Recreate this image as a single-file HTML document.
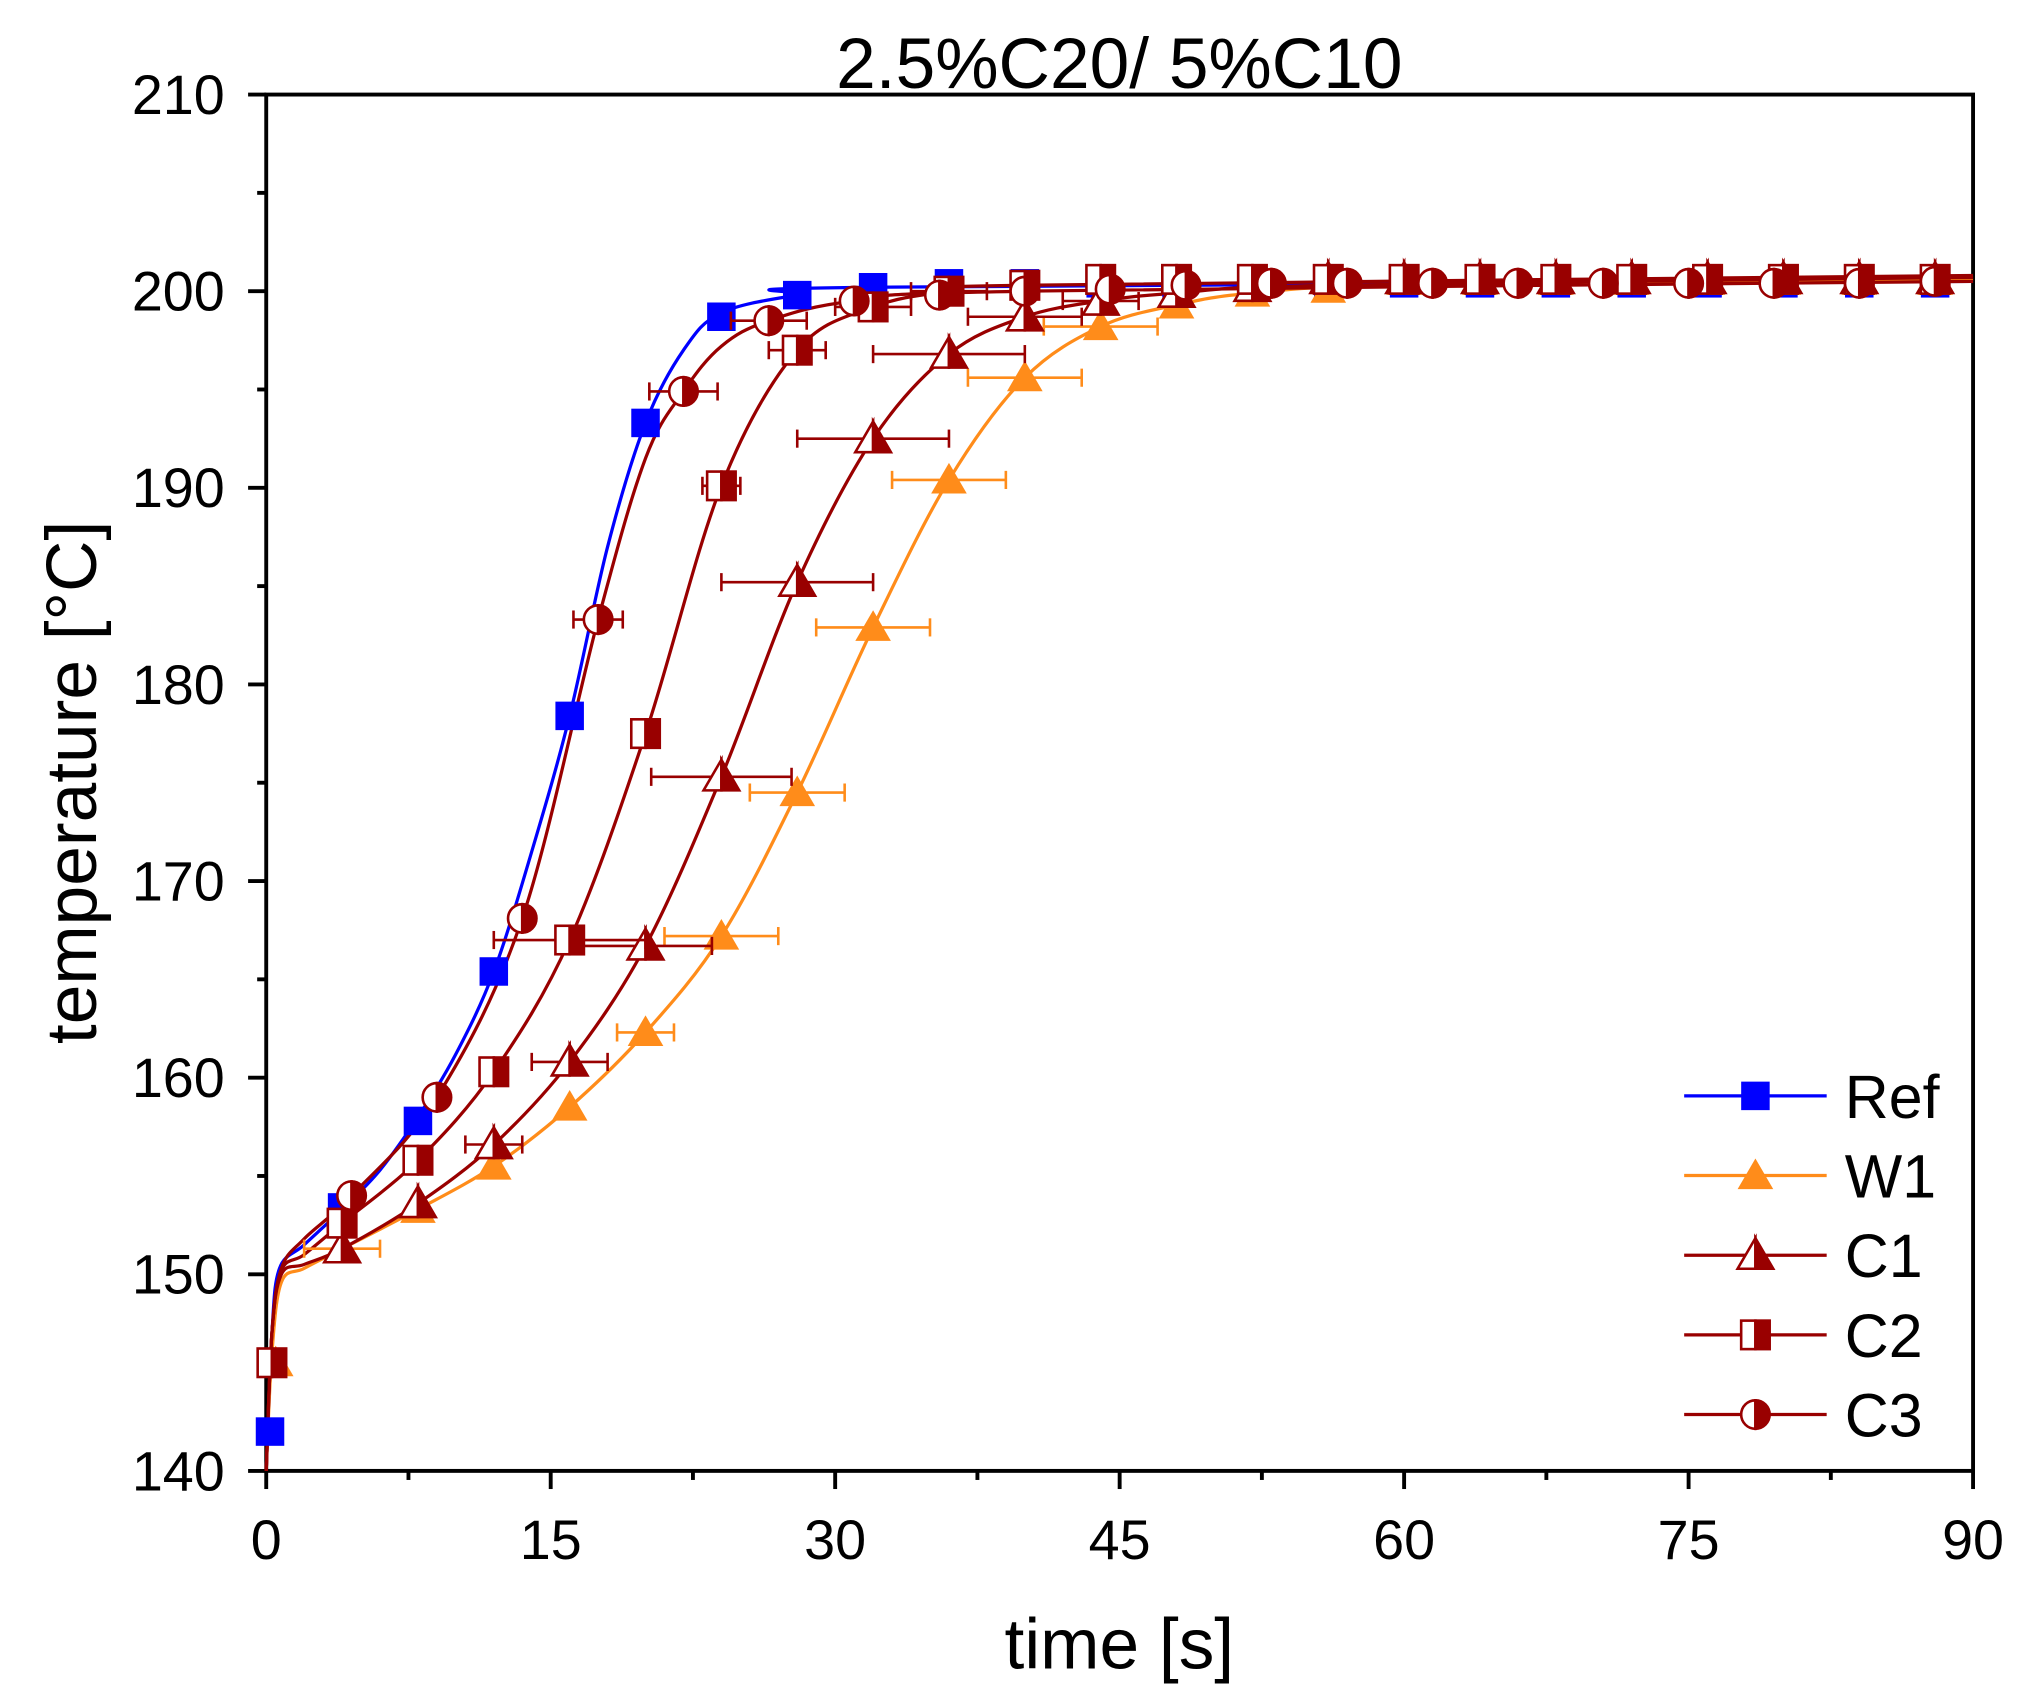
<!DOCTYPE html>
<html><head><meta charset="utf-8"><style>html,body{margin:0;padding:0;background:#fff}svg{display:block}</style></head>
<body>
<svg id="s" xmlns="http://www.w3.org/2000/svg" width="2021" height="1706" viewBox="0 0 1560 1317" preserveAspectRatio="none" font-family="Liberation Sans, Arial, sans-serif"></svg>
<script>
const S=document.getElementById('s');const NS='http://www.w3.org/2000/svg';
function el(t,a,p){const e=document.createElementNS(NS,t);for(const k in a)e.setAttribute(k,a[k]);(p||S).appendChild(e);return e;}
const X0=205.5,X1=1523,Y0=1135.5,Y1=73;
const X=t=>X0+t*(X1-X0)/90, Y=T=>Y0-(T-140)*(Y0-Y1)/70;
el('rect',{x:X0,y:Y1,width:X1-X0,height:Y0-Y1,fill:'none',stroke:'#000','stroke-width':3});
for(let t=0;t<=90;t+=7.5){const maj=t%15==0;el('line',{x1:X(t),x2:X(t),y1:Y0,y2:Y0+(maj?14:7),stroke:'#000','stroke-width':3});
 if(maj){const tx=el('text',{x:X(t),y:Y0+68,'font-size':43,'text-anchor':'middle'});tx.textContent=t;}}
for(let T=140;T<=210;T+=5){const maj=T%10==0;el('line',{x1:X0,x2:X0-(maj?14:7),y1:Y(T),y2:Y(T),stroke:'#000','stroke-width':3});
 if(maj){const tx=el('text',{x:X0-32,y:Y(T)+15,'font-size':43,'text-anchor':'end'});tx.textContent=T;}}
let t=el('text',{x:864,y:1288,'font-size':55,'text-anchor':'middle'});t.textContent='time [s]';
t=el('text',{x:0,y:0,'font-size':55,'text-anchor':'middle',transform:'translate(74,604) rotate(-90)'});t.textContent='temperature [°C]';
t=el('text',{x:864,y:68,'font-size':55,'text-anchor':'middle'});t.textContent='2.5%C20/ 5%C10';
const BL='#0000ff',OR='#ff8c1a',DR='#990000';
const tail=(start,v)=>{const a=[];for(let x=start;x<=88;x+=4)a.push([x,v]);return a;};
const series=[
 {c:BL,m:'sq',line:[[0,140],[0.3,147],[0.7,150.3],[2,151.5],[4,153.3],[6,155.3],[8,158],[10,161.2],[12,165.4],[14,171.5],[16,178.4],[18,187],[20,193.3],[22,197],[24,198.9],[28,199.8],[32,200.2],[90,200.5]],
  pts:[[0.2,142],[4,153.4],[8,157.8],[12,165.4],[16,178.4],[20,193.3],[24,198.7],[28,199.8],[32,200.2]].concat(tail(36,200.4))},
 {c:OR,m:'tri',line:[[0,140],[0.3,146],[0.8,149.6],[2,150.3],[4,151.3],[8,153.3],[12,155.5],[16,158.5],[20,162.3],[24,167.2],[28,174.5],[32,182.9],[36,190.4],[40,195.6],[44,198.2],[48,199.3],[52,199.9],[60,200.3],[90,200.6]],
  pts:[[0.5,145.5],[4,151.3],[8,153.3],[12,155.5],[16,158.5],[20,162.3],[24,167.2],[28,174.5],[32,182.9],[36,190.4],[40,195.6],[44,198.2],[48,199.3],[52,199.9],[56,200.1]].concat(tail(60,200.5)),
  err:[[4,2],[20,1.5],[24,3],[28,2.5],[32,3],[36,3],[40,3],[44,3]]},
 {c:DR,m:'htri',line:[[0,140],[0.3,147],[0.8,150],[2,150.5],[4,151.3],[8,153.6],[12,156.6],[16,160.8],[20,166.7],[24,175.3],[28,185.2],[32,192.5],[36,196.8],[40,198.7],[44,199.5],[48,199.9],[56,200.3],[90,200.7]],
  pts:[[4,151.3],[8,153.6],[12,156.6],[16,160.8],[20,166.7],[24,175.3],[28,185.2],[32,192.5],[36,196.8],[40,198.7],[44,199.5],[48,199.9],[52,200.2]].concat(tail(56,200.6)),
  err:[[12,1.5],[16,2],[20,3.5],[24,3.7],[28,4],[32,4],[36,4],[40,3],[44,2]]},
 {c:DR,m:'hsq',line:[[0,140],[0.3,147],[0.8,150.2],[2,151],[4,152.6],[8,155.8],[12,160.3],[16,167],[20,177.5],[24,190.1],[28,197],[32,199.2],[36,200],[40,200.3],[90,200.8]],
  pts:[[0.3,145.5],[4,152.6],[8,155.8],[12,160.3],[16,167],[20,177.5],[24,190.1],[28,197],[32,199.2],[36,200],[40,200.3]].concat(tail(44,200.6)),
  err:[[16,4],[24,1],[28,1.5],[32,2],[36,2]]},
 {c:DR,m:'hci',line:[[0,140],[0.3,147],[0.8,150.3],[2,151.8],[4.5,154],[9,159],[13.5,168.1],[17.5,183.3],[20,191.5],[22,194.9],[24,197.2],[26.5,198.5],[31,199.5],[40,200],[90,200.5]],
  pts:[[4.5,154],[9,159],[13.5,168.1],[17.5,183.3],[22,194.9],[26.5,198.5],[31,199.5],[35.5,199.8],[40,200],[44.5,200.1],[48.5,200.3],[53,200.4],[57,200.4],[61.5,200.4],[66,200.4],[70.5,200.4],[75,200.4],[79.5,200.4],[84,200.4],[88,200.5]],
  err:[[17.5,1.3],[22,1.8],[26.5,2]]}
];
function marker(m,x,y,c,r){
 r=r||11;
 if(m=='sq'){el('rect',{x:x-r,y:y-r,width:2*r,height:2*r,fill:c});}
 else if(m=='tri'){el('polygon',{points:`${x},${y-r*1.2} ${x-r*1.25},${y+r*0.95} ${x+r*1.25},${y+r*0.95}`,fill:c});}
 else if(m=='htri'){el('polygon',{points:`${x},${y-r*1.2} ${x-r*1.25},${y+r*0.95} ${x},${y+r*0.95}`,fill:'#fff',stroke:c,'stroke-width':2});
   el('polygon',{points:`${x},${y-r*1.2} ${x+r*1.25},${y+r*0.95} ${x},${y+r*0.95}`,fill:c,stroke:c,'stroke-width':2});}
 else if(m=='hsq'){el('rect',{x:x-r,y:y-r,width:r,height:2*r,fill:'#fff',stroke:c,'stroke-width':2});el('rect',{x:x,y:y-r,width:r,height:2*r,fill:c,stroke:c,'stroke-width':2});}
 else if(m=='hci'){el('path',{d:`M${x},${y-r} A${r},${r} 0 0 0 ${x},${y+r} Z`,fill:'#fff',stroke:c,'stroke-width':2});
   el('path',{d:`M${x},${y-r} A${r},${r} 0 0 1 ${x},${y+r} Z`,fill:c,stroke:c,'stroke-width':2});}
}
function smooth(p){let d=`M${X(p[0][0])},${Y(p[0][1])}`;
 for(let i=0;i<p.length-1;i++){const a=p[Math.max(0,i-1)],b=p[i],c=p[i+1],e=p[Math.min(p.length-1,i+2)];
  const bx=X(b[0]),by=Y(b[1]),cx=X(c[0]),cy=Y(c[1]);
  const c1x=bx+(cx-X(a[0]))/6,c1y=by+(cy-Y(a[1]))/6,c2x=cx-(X(e[0])-bx)/6,c2y=cy-(Y(e[1])-by)/6;
  d+=` C${c1x},${c1y} ${c2x},${c2y} ${cx},${cy}`;}return d;}
series.forEach(s=>{el('path',{d:smooth(s.line),fill:'none',stroke:s.c,'stroke-width':2.5});});
series.forEach(s=>{(s.err||[]).forEach(([tt,w])=>{const p=s.pts.find(q=>q[0]==tt);if(!p)return;const y=Y(p[1]);
  el('line',{x1:X(tt-w),x2:X(tt+w),y1:y,y2:y,stroke:s.c,'stroke-width':2});
  el('line',{x1:X(tt-w),x2:X(tt-w),y1:y-7,y2:y+7,stroke:s.c,'stroke-width':2});
  el('line',{x1:X(tt+w),x2:X(tt+w),y1:y-7,y2:y+7,stroke:s.c,'stroke-width':2});});
 s.pts.forEach(([a,b])=>marker(s.m,X(a),Y(b),s.c));});
const L=[['Ref',BL,'sq'],['W1',OR,'tri'],['C1',DR,'htri'],['C2',DR,'hsq'],['C3',DR,'hci']];
L.forEach((l,i)=>{const y=846+i*61.5;el('line',{x1:1300,x2:1410,y1:y,y2:y,stroke:l[1],'stroke-width':2.5});marker(l[2],1355,y,l[1],11);
 const tx=el('text',{x:1424,y:y+17,'font-size':47});tx.textContent=l[0];});
</script>
</body></html>
